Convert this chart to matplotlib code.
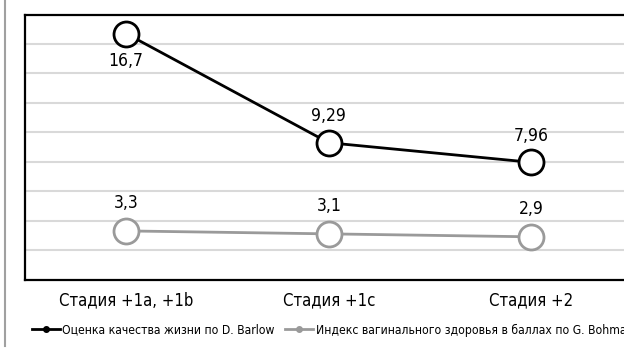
import matplotlib.pyplot as plt
from matplotlib.lines import Line2D

plt.rcParams['font.family'] = ['DejaVu Sans']
plt.rcParams['font.stretch'] = 'condensed'

# Data
stages = ["Стадия +1a, +1b", "Стадия +1c", "Стадия +2"]
barlow = [16.7, 9.29, 7.96]
bohman = [3.3, 3.1, 2.9]
series_names = ["Оценка качества жизни по D. Barlow",
                "Индекс вагинального здоровья в баллах по G. Bohman"]

def fmt(v):
    return f"{v:g}".replace(".", ",")

fig = plt.figure(figsize=(6.24, 3.53), dpi=100)
ax = fig.add_axes([25 / 624, 1 - 279.5 / 353, 607.5 / 624, 265 / 353])

x = [i + 0.5 for i in range(len(stages))]

ax.plot(x, barlow, color="black", lw=2, marker="o", ms=18,
        mfc="white", mec="black", mew=2, zorder=4)
ax.plot(x, bohman, color="#9a9a9a", lw=2, marker="o", ms=18,
        mfc="white", mec="#9a9a9a", mew=2, zorder=3)

# value labels: first point of the top series goes below
for i, v in enumerate(barlow):
    off = -20 if i == 0 else 19
    ax.annotate(fmt(v), (x[i], v), xytext=(0, off), textcoords="offset points",
                ha="center", va="center", fontsize=12.5)
for i, v in enumerate(bohman):
    ax.annotate(fmt(v), (x[i], v), xytext=(0, 20), textcoords="offset points",
                ha="center", va="center", fontsize=12.5)

ax.set_xlim(0, 3)
ax.set_ylim(0, 18)
ax.set_yticks(range(2, 18, 2))
ax.yaxis.grid(True, color="#d9d9d9", lw=1.5)
ax.set_axisbelow(True)
ax.tick_params(left=False, labelleft=False, bottom=False)
ax.set_xticks(x)
ax.set_xticklabels(stages, fontsize=12)
ax.tick_params(axis="x", pad=5)
for side in ["top", "left", "bottom"]:
    ax.spines[side].set_linewidth(1.6)
ax.spines["right"].set_visible(False)

# thin frame line on the far left
fig.add_artist(Line2D([5 / 624, 5 / 624], [1, 1 - 346 / 353],
                      color="#a0a0a0", lw=1.5))

handles = [
    Line2D([], [], color="black", lw=2, marker="o", ms=4),
    Line2D([], [], color="#9a9a9a", lw=2, marker="o", ms=4),
]
fig.legend(handles, series_names, loc="center left", ncol=2,
           bbox_to_anchor=(32 / 624, 1 - 330 / 353), frameon=False,
           fontsize=8.7, handlelength=2.3, handletextpad=0.2,
           columnspacing=0.9, borderaxespad=0, borderpad=0)

fig.savefig("out.png", dpi=100)
